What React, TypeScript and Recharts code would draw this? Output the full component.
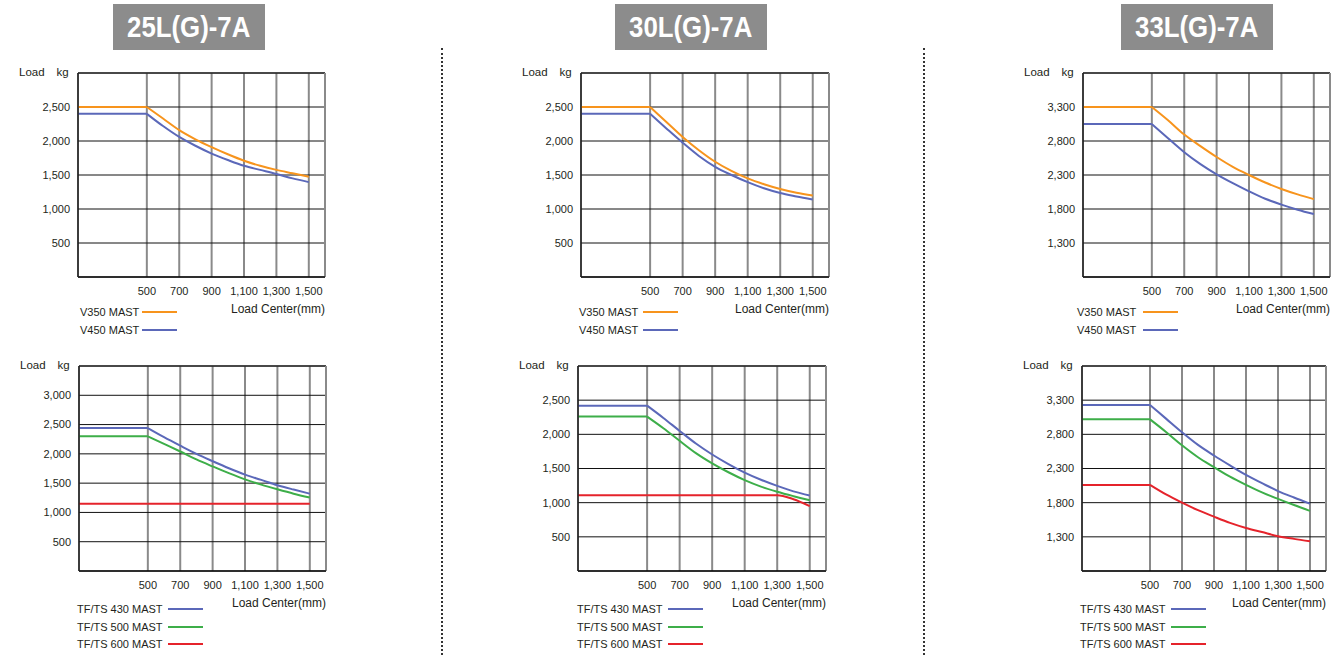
import React from 'react';
import { LineChart, Line, XAxis, YAxis, CartesianGrid, ReferenceLine } from 'recharts';

// load centre (mm) sample points; the first one is the left edge of the plot
const loadCenters = [75, 500, 600, 700, 800, 900, 1000, 1100, 1200, 1300, 1400, 1500];
const xTicks = [500, 700, 900, 1100, 1300, 1500];

const models = ['25L(G)-7A', '30L(G)-7A', '33L(G)-7A'];

// 25L(G)-7A
const v350_25 = [2500, 2500, 2330, 2160, 2025, 1910, 1805, 1710, 1635, 1575, 1525, 1475];
const v450_25 = [2400, 2400, 2220, 2060, 1930, 1815, 1720, 1635, 1575, 1515, 1450, 1395];
const tf430_25 = [2440, 2440, 2285, 2140, 2000, 1875, 1755, 1645, 1555, 1465, 1390, 1320];
const tf500_25 = [2300, 2300, 2170, 2040, 1905, 1785, 1670, 1565, 1475, 1395, 1320, 1255];
const tf600_25 = [1150, 1150, 1150, 1150, 1150, 1150, 1150, 1150, 1150, 1150, 1150, 1150];

// 30L(G)-7A
const v350_30 = [2500, 2500, 2280, 2060, 1865, 1695, 1560, 1450, 1365, 1295, 1240, 1200];
const v450_30 = [2400, 2400, 2185, 1975, 1780, 1620, 1500, 1395, 1305, 1235, 1185, 1140];
const tf430_30 = [2420, 2420, 2240, 2050, 1865, 1705, 1565, 1440, 1335, 1245, 1165, 1105];
const tf500_30 = [2260, 2260, 2090, 1905, 1725, 1575, 1445, 1330, 1235, 1160, 1095, 1035];
const tf600_30 = [1110, 1110, 1110, 1110, 1110, 1110, 1110, 1110, 1110, 1110, 1050, 950];

// 33L(G)-7A
const v350_33 = [3300, 3300, 3105, 2895, 2725, 2565, 2420, 2300, 2190, 2095, 2015, 1945];
const v450_33 = [3050, 3050, 2840, 2635, 2460, 2310, 2180, 2060, 1950, 1865, 1790, 1725];
const tf430_33 = [3230, 3230, 3030, 2830, 2645, 2490, 2345, 2205, 2085, 1970, 1875, 1785];
const tf500_33 = [3020, 3020, 2835, 2640, 2465, 2320, 2180, 2060, 1950, 1855, 1765, 1680];
const tf600_33 = [2060, 2060, 1920, 1800, 1690, 1595, 1505, 1430, 1370, 1310, 1270, 1235];

const yTicksA = [500, 1000, 1500, 2000, 2500];
const yTicksB = [500, 1000, 1500, 2000, 2500, 3000];
const yTicksC = [1300, 1800, 2300, 2800, 3300];

const COLORS = {
  v350: '#F7941D',
  v450: '#5B68B9',
  tf430: '#5B68B9',
  tf500: '#3DAE49',
  tf600: '#E5232B',
};

const FONT = "'Liberation Sans', Arial, sans-serif";
const INK = '#231f20';

type Series = { key: string; name: string; values: number[]; color: string };

type ChartSpec = {
  plotLeft: number;
  plotTop: number;
  plotWidth: number;
  plotHeight: number;
  yDomain: [number, number];
  yTicks: number[];
  series: Series[];
  legendLeft: number;
  legendTop: number;
  legendLineX: number;
};

const fmt = (v: number) => v.toLocaleString('en-US');

const LoadChart: React.FC<{ spec: ChartSpec }> = ({ spec }) => {
  const yAxisW = 70;
  const mTop = 10;
  const mRight = 6;
  const xAxisH = 30;
  const width = yAxisW + spec.plotWidth + mRight;
  const height = mTop + spec.plotHeight + xAxisH;

  // flat part (left edge to 500mm) drawn straight, the rest as a smooth curve
  const data = loadCenters.map((x, i) => {
    const row: Record<string, number | undefined> = { x };
    spec.series.forEach((s) => {
      row[s.key + '_flat'] = x <= 500 ? s.values[i] : undefined;
      row[s.key] = x >= 500 ? s.values[i] : undefined;
    });
    return row;
  });

  const tickStyle = { fontSize: 11, fill: INK, fontFamily: FONT };

  return (
    <>
      <div style={{ position: 'absolute', left: spec.plotLeft - yAxisW, top: spec.plotTop - mTop }}>
        <LineChart width={width} height={height} data={data} margin={{ top: mTop, right: mRight, bottom: 0, left: 0 }}>
          <CartesianGrid horizontal={false} stroke="#8a8a8a" strokeWidth={2} />
          <CartesianGrid vertical={false} stroke="#111" strokeWidth={1} />
          <XAxis
            dataKey="x"
            type="number"
            domain={[75, 1600]}
            ticks={xTicks}
            interval={0}
            tickFormatter={fmt}
            tickLine={false}
            tickSize={0}
            tickMargin={10}
            height={xAxisH}
            axisLine={{ stroke: '#111', strokeWidth: 1.5 }}
            tick={tickStyle}
          />
          <YAxis
            type="number"
            domain={spec.yDomain}
            ticks={spec.yTicks}
            interval={0}
            tickFormatter={fmt}
            tickLine={false}
            tickSize={0}
            tickMargin={8}
            width={yAxisW}
            axisLine={{ stroke: '#222', strokeWidth: 1.5 }}
            tick={tickStyle}
            allowDataOverflow
          />
          <ReferenceLine y={spec.yDomain[1]} stroke="#333" strokeWidth={1.5} />
          <ReferenceLine x={1600} stroke="#8a8a8a" strokeWidth={2} />
          {spec.series.map((s) => (
            <Line
              key={s.key + '_flat'}
              dataKey={s.key + '_flat'}
              name={s.name}
              type="linear"
              stroke={s.color}
              strokeWidth={2}
              dot={false}
              activeDot={false}
              isAnimationActive={false}
            />
          ))}
          {spec.series.map((s) => (
            <Line
              key={s.key}
              dataKey={s.key}
              name={s.name}
              type="monotone"
              stroke={s.color}
              strokeWidth={2}
              dot={false}
              activeDot={false}
              isAnimationActive={false}
            />
          ))}
        </LineChart>
      </div>
      <div
        style={{
          position: 'absolute',
          left: spec.plotLeft - 59,
          top: spec.plotTop - 8,
          fontSize: 11.5,
          fontFamily: FONT,
          color: INK,
          lineHeight: '14px',
        }}
      >
        Load<span style={{ marginLeft: 12 }}>kg</span>
      </div>
      <div
        style={{
          position: 'absolute',
          left: spec.plotLeft + spec.plotWidth - 160,
          width: 160,
          textAlign: 'right',
          top: spec.plotTop + spec.plotHeight + 25,
          fontSize: 12,
          fontFamily: FONT,
          color: INK,
          lineHeight: '14px',
        }}
      >
        Load Center(mm)
      </div>
      {spec.series.map((s, i) => (
        <div
          key={s.key}
          style={{
            position: 'absolute',
            left: spec.legendLeft,
            top: spec.legendTop + i * 17.5 - 7,
            height: 14,
            fontSize: 11,
            fontFamily: FONT,
            color: INK,
            lineHeight: '14px',
            whiteSpace: 'nowrap',
          }}
        >
          {s.name}
          <span
            style={{
              position: 'absolute',
              left: spec.legendLineX,
              top: 6,
              width: 35,
              height: 2,
              background: s.color,
            }}
          />
        </div>
      ))}
    </>
  );
};

const topSeries = (a: number[], b: number[]): Series[] => [
  { key: 'v350', name: 'V350 MAST', values: a, color: COLORS.v350 },
  { key: 'v450', name: 'V450 MAST', values: b, color: COLORS.v450 },
];
const bottomSeries = (a: number[], b: number[], c: number[]): Series[] => [
  { key: 'tf430', name: 'TF/TS 430 MAST', values: a, color: COLORS.tf430 },
  { key: 'tf500', name: 'TF/TS 500 MAST', values: b, color: COLORS.tf500 },
  { key: 'tf600', name: 'TF/TS 600 MAST', values: c, color: COLORS.tf600 },
];

const charts: ChartSpec[] = [
  { plotLeft: 78, plotTop: 73, plotWidth: 247, plotHeight: 204, yDomain: [0, 3000], yTicks: yTicksA, series: topSeries(v350_25, v450_25), legendLeft: 80, legendTop: 312, legendLineX: 62 },
  { plotLeft: 79, plotTop: 366, plotWidth: 247, plotHeight: 205, yDomain: [0, 3500], yTicks: yTicksB, series: bottomSeries(tf430_25, tf500_25, tf600_25), legendLeft: 77, legendTop: 609, legendLineX: 91 },
  { plotLeft: 581, plotTop: 73, plotWidth: 248, plotHeight: 204, yDomain: [0, 3000], yTicks: yTicksA, series: topSeries(v350_30, v450_30), legendLeft: 579, legendTop: 312, legendLineX: 64 },
  { plotLeft: 578, plotTop: 366, plotWidth: 248, plotHeight: 205, yDomain: [0, 3000], yTicks: yTicksA, series: bottomSeries(tf430_30, tf500_30, tf600_30), legendLeft: 577, legendTop: 609, legendLineX: 91 },
  { plotLeft: 1083, plotTop: 73, plotWidth: 247, plotHeight: 204, yDomain: [800, 3800], yTicks: yTicksC, series: topSeries(v350_33, v450_33), legendLeft: 1077, legendTop: 312, legendLineX: 66 },
  { plotLeft: 1082, plotTop: 366, plotWidth: 244, plotHeight: 205, yDomain: [800, 3800], yTicks: yTicksC, series: bottomSeries(tf430_33, tf500_33, tf600_33), legendLeft: 1080, legendTop: 609, legendLineX: 91 },
];

const titleLefts = [113, 615, 1121];
const separators = [441, 923];

export default function App() {
  return (
    <div style={{ position: 'relative', width: 1335, height: 655, background: '#fff', overflow: 'hidden' }}>
      <style>{`body{margin:0;background:#fff}`}</style>
      {models.map((m, i) => (
        <div
          key={m}
          style={{
            position: 'absolute',
            left: titleLefts[i],
            top: 4,
            width: 152,
            height: 46,
            background: '#8C8C8C',
            color: '#fff',
            fontFamily: FONT,
            fontWeight: 'bold',
            fontSize: 30,
            lineHeight: '46px',
            textAlign: 'center',
          }}
        >
          <span style={{ display: 'inline-block', transform: 'scaleX(0.86)' }}>{m}</span>
        </div>
      ))}
      {separators.map((x) => (
        <div
          key={x}
          style={{
            position: 'absolute',
            left: x,
            top: 48,
            height: 607,
            borderLeft: '2px dotted #333',
          }}
        />
      ))}
      {charts.map((c, i) => (
        <LoadChart key={i} spec={c} />
      ))}
    </div>
  );
}
